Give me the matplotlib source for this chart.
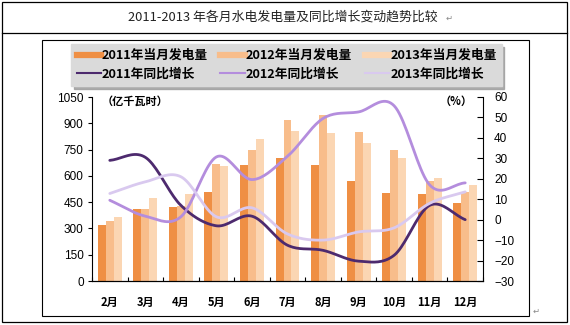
import numpy as np
import matplotlib.pyplot as plt
from matplotlib.lines import Line2D
from matplotlib.patches import Rectangle

# DATA

months = ["2月", "3月", "4月", "5月", "6月", "7月", "8月", "9月", "10月", "11月", "12月"]

gen_2011 = [320, 410, 420, 510, 660, 700, 660, 572, 504, 496, 443]
gen_2012 = [340, 410, 430, 665, 750, 918, 948, 848, 745, 572, 506]
gen_2013 = [365, 475, 495, 655, 810, 858, 843, 786, 700, 590, 548]

yoy_2011 = [29, 30.5, 7, -3, 1.7, -12.5, -15, -20.3, -17.4, 7, 0]
yoy_2012 = [9.5, 1.7, 1.4, 30.7, 19.6, 31, 49.5, 52.7, 55.7, 17, 18]
yoy_2013 = [12.8, 18.5, 21, 1.4, 5.8, -7, -10, -6, -4, 8, 13.6]

bar_colors = ["#ef8f44", "#f8bd8b", "#fbd6b3"]
line_colors = ["#4d2a6e", "#b48ddd", "#d9c9ef"]

bar_labels = ["2011年当月发电量", "2012年当月发电量", "2013年当月发电量"]
line_labels = ["2011年同比增长", "2012年同比增长", "2013年同比增长"]

cjk = ["Noto Sans CJK SC", "DejaVu Sans"]
num_font = ["Liberation Sans", "DejaVu Sans"]


def smooth(xs, ys, n=20):
    # catmull-rom through the monthly points, like excel's smoothed line
    xs = np.asarray(xs, float)
    ys = np.asarray(ys, float)
    px = np.concatenate([[2 * xs[0] - xs[1]], xs, [2 * xs[-1] - xs[-2]]])
    py = np.concatenate([[2 * ys[0] - ys[1]], ys, [2 * ys[-1] - ys[-2]]])
    out_x, out_y = [], []
    t = np.linspace(0, 1, n, endpoint=False)
    for i in range(1, len(px) - 2):
        for p, out in ((px, out_x), (py, out_y)):
            p0, p1, p2, p3 = p[i - 1], p[i], p[i + 1], p[i + 2]
            out.extend(0.5 * (2 * p1 + (-p0 + p2) * t
                              + (2 * p0 - 5 * p1 + 4 * p2 - p3) * t ** 2
                              + (-p0 + 3 * p1 - 3 * p2 + p3) * t ** 3))
    out_x.append(xs[-1])
    out_y.append(ys[-1])
    return out_x, out_y


W, H = 570, 325
fig = plt.figure(figsize=(W / 100, H / 100), dpi=100)

# table frame around the chart
fig.add_artist(Rectangle((2 / W, 1 - 322 / H), 565 / W, 320 / H, transform=fig.transFigure,
                         fill=False, edgecolor="black", linewidth=0.9))
fig.add_artist(Line2D([2 / W, 567 / W], [1 - 33 / H, 1 - 33 / H], transform=fig.transFigure,
                      color="black", linewidth=0.9))
fig.add_artist(Rectangle((42 / W, 1 - 316 / H), 487 / W, 276 / H, transform=fig.transFigure,
                         fill=False, edgecolor="black", linewidth=0.8))

fig.text(283 / W, 1 - 17 / H, "2011-2013 年各月水电发电量及同比增长变动趋势比较", family=cjk,
         fontsize=9.3, ha="center", va="center", color="#222222")
fig.text(446 / W, 1 - 18 / H, "↵", family=["DejaVu Sans"], fontsize=6, ha="left",
         va="center", color="#888888")
fig.text(533 / W, 1 - 311 / H, "↵", family=["DejaVu Sans"], fontsize=6, ha="left",
         va="center", color="#888888")

ax = fig.add_axes([92 / W, 1 - 281 / H, 391 / W, 184 / H])
ax2 = ax.twinx()

x = np.arange(len(months))
bw = 0.225
for k, vals in enumerate([gen_2011, gen_2012, gen_2013]):
    ax.bar(x + (k - 1) * bw, vals, width=bw, color=bar_colors[k], linewidth=0, zorder=2)

for k, vals in enumerate([yoy_2011, yoy_2012, yoy_2013]):
    sx, sy = smooth(x, vals)
    ax2.plot(sx, sy, color=line_colors[k], linewidth=2, solid_capstyle="round", zorder=3)

ax.set_xlim(-0.5, len(months) - 0.5)
ax.set_ylim(0, 1050)
ax.set_yticks(np.arange(0, 1051, 150))
ax2.set_ylim(-30, 60)
ax2.set_yticks(np.arange(-30, 61, 10))

ax.set_xticks(x)
ax.set_xticklabels(months, family=cjk, fontweight="bold", fontsize=8)
ax.set_xticks(np.arange(-0.5, len(months), 1), minor=True)
ax.tick_params(axis="x", which="major", length=0, pad=11)
ax.tick_params(axis="x", which="minor", direction="in", length=3, width=0.8)
ax.tick_params(axis="y", direction="out", length=3, width=0.8, pad=3)
ax2.tick_params(axis="y", direction="in", length=4, width=0.8, pad=8)
for lab in ax.get_yticklabels() + ax2.get_yticklabels():
    lab.set_family(num_font)
    lab.set_fontsize(8.5)

for a in (ax, ax2):
    a.spines["top"].set_visible(False)
    for s in ("left", "right", "bottom"):
        a.spines[s].set_linewidth(0.8)
ax2.spines["left"].set_visible(False)
ax.spines["right"].set_visible(False)
ax2.set_zorder(ax.get_zorder() + 1)
ax2.patch.set_visible(False)

ax.text(0.025, 0.975, "（亿千瓦时）", transform=ax.transAxes, family=cjk, fontweight="bold",
        fontsize=8, ha="left", va="center")
ax.text(0.93, 0.975, "（%）", transform=ax.transAxes, family=cjk, fontweight="bold",
        fontsize=8, ha="center", va="center")

# legend: bars on the first row, growth lines on the second
handles, labels = [], []
for k in range(3):
    handles.append(Line2D([], [], color=bar_colors[k], linewidth=4.5))
    labels.append(bar_labels[k])
    handles.append(Line2D([], [], color=line_colors[k], linewidth=1.5))
    labels.append(line_labels[k])

leg = fig.legend(handles, labels, ncol=3, loc="center",
                 bbox_to_anchor=(65 / W, 1 - 87 / H, 443 / W, 44 / H), mode="expand",
                 prop={"family": cjk, "weight": "bold", "size": 9.2},
                 handlelength=1.9, handletextpad=0.1, columnspacing=1.0, labelspacing=0.45,
                 borderpad=0.4, fancybox=False, shadow={"color": "#9a9a9a", "alpha": 0.8},
                 facecolor="#dadada", edgecolor="#dadada", framealpha=1)

fig.savefig("out.png", dpi=100)
